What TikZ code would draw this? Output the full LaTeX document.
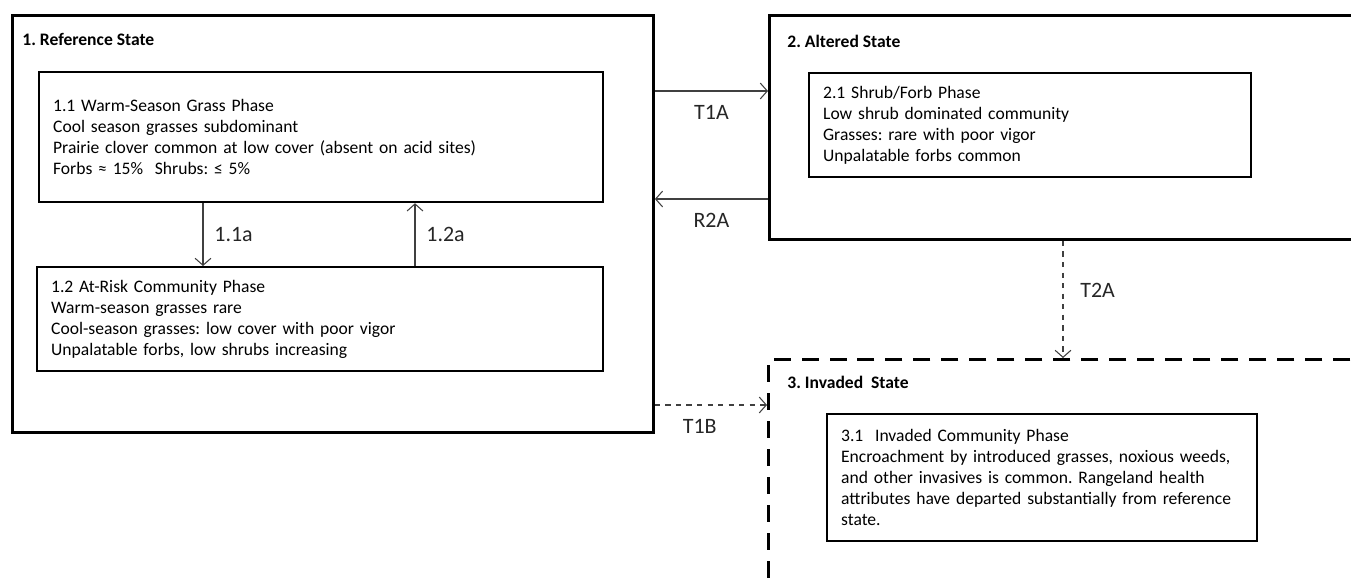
\documentclass[tikz,border=0pt]{standalone}
\usepackage{fontspec}
\setmainfont{Carlito}
\usetikzlibrary{positioning, arrows.meta}

\tikzset{
  statebox/.style={draw, rectangle, line width=1.7pt, inner sep=0pt, anchor=north west},
  phasebox/.style={draw, rectangle, line width=1.3pt, align=left, anchor=north west,
    inner xsep=0.28cm, inner ysep=0pt, font=\fontsize{10}{11.9}\selectfont},
  statetitle/.style={font=\bfseries\fontsize{10}{12}\selectfont, anchor=base west, inner sep=0pt},
  trans/.style={-{Straight Barb[length=4pt, width=9pt]}, draw=black!75, line width=0.6pt},
  translbl/.style={font=\fontsize{12.5}{14}\selectfont, text=black!85}
}

\begin{document}
\frenchspacing
\begin{tikzpicture}[x=0.02cm, y=-0.02cm]
  \useasboundingbox (0,0) rectangle (1351,581);
  \clip (0,0) rectangle (1351,581);

  % states
  \node[statebox, minimum width=12.82cm, minimum height=8.34cm] (ref) at (11,14) {};
  \node[statetitle] (reftitle) at (22,46) {1. Reference State};

  \node[statebox, minimum width=12cm, minimum height=4.48cm] (alt) at (768,14) {};
  \node[statetitle] (alttitle) at (787,48) {2. Altered State};

  \node[statebox, dash pattern=on 0.34cm off 0.22cm, minimum width=12cm, minimum height=5cm] (inv) at (767,358) {};
  \node[statetitle] (invtitle) at (787,388) {3. Invaded\ \ State};

  % phases
  \node[phasebox, minimum height=2.6cm, text width=10.72cm] (p11) at (38,71)
    {1.1 Warm-Season Grass Phase\\
     Cool season grasses subdominant\\
     Prairie clover common at low cover (absent on acid sites)\\
     Forbs ≈ 15\%\ \ Shrubs: ≤ 5\%};
  \node[phasebox, minimum height=2.08cm, text width=10.76cm] (p12) at (36,266)
    {1.2 At-Risk Community Phase\\
     Warm-season grasses rare\\
     Cool-season grasses: low cover with poor vigor\\
     Unpalatable forbs, low shrubs increasing};
  \node[phasebox, minimum height=2.08cm, text width=8.28cm] (p21) at (808,72)
    {2.1 Shrub/Forb Phase\\
     Low shrub dominated community\\
     Grasses: rare with poor vigor\\
     Unpalatable forbs common};
  \node[phasebox, minimum height=2.54cm, text width=8.04cm] (p31) at (826,413)
    {3.1\ \ Invaded Community Phase\\
     Encroachment by introduced grasses, noxious weeds,\\
     and other invasives is common. Rangeland health\\
     attributes have departed substantially from reference\\
     state.};

  % pathways
  \draw[trans] (p11.south -| 203,0) -- node[translbl, right=0.1cm] {1.1a} (p12.north -| 203,0);
  \draw[trans] (p12.north -| 415,0) -- node[translbl, right=0.1cm] {1.2a} (p11.south -| 415,0);

  % transitions
  \draw[trans] (ref.east |- 0,91) -- node[translbl, below=0.15cm] {T1A} (alt.west |- 0,91);
  \draw[trans] (alt.west |- 0,199) -- node[translbl, below=0.15cm] {R2A} (ref.east |- 0,199);
  \draw[trans, dashed] (ref.east |- 0,405) -- node[translbl, below=0.15cm, pos=0.4] {T1B} (inv.west |- 0,405);
  \draw[trans, dashed] (alt.south -| 1063,0) -- node[translbl, right=0.22cm, pos=0.42] {T2A} (inv.north -| 1063,0);
\end{tikzpicture}
\end{document}
